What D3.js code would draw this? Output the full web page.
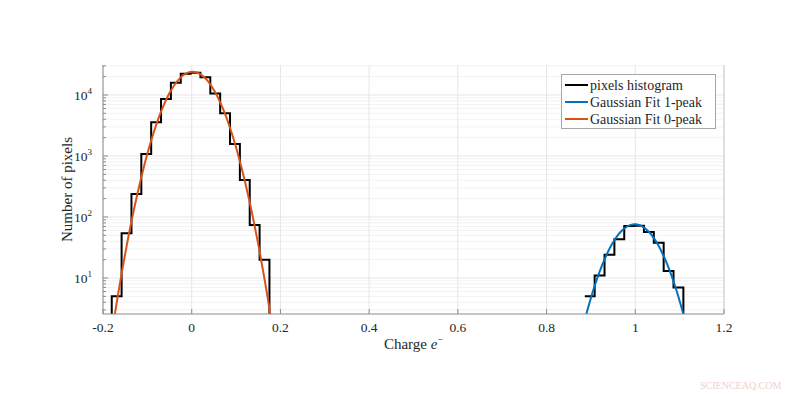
<!DOCTYPE html>
<html lang="en">
<head>
  <meta charset="UTF-8">
  <title>Charge histogram</title>
  <script src="https://d3js.org/d3.v7.min.js"></script>
  <style>
    body { margin: 0; background: #fff; }
    text { font-family: "Liberation Serif", "DejaVu Serif", serif; fill: #262626; }
  </style>
</head>
<body>

<div id="chart"></div>

<script>
  // histogram bins (bin width shared by both peaks)
  const binWidth = 0.02222;
  const peak0Start = -0.2025;
  const peak0Counts = [1, 5, 54, 238, 1080, 3570, 8600, 15900, 22300, 23200, 19500, 10600, 5000, 1570, 404, 74, 20, 1];
  const peak1Start = 0.8640;
  const peak1Counts = [0, 5, 11, 24, 43, 71, 72, 57, 38, 13, 7, 1];

  // gaussian fit curves
  const fit0X = [-0.19, -0.17, -0.15, -0.13, -0.11, -0.09, -0.07, -0.05, -0.03, -0.01, 0.01, 0.03, 0.05, 0.07, 0.09, 0.11, 0.13, 0.15, 0.17, 0.19];
  const fit0Y = [0.42, 3.6, 24.9, 135, 575, 1934, 5136, 10740, 17700, 23000, 23550, 19000, 12100, 6065, 2398, 747, 184, 35.5, 5.4, 0.65];
  const fit1X = [0.87, 0.89, 0.91, 0.93, 0.95, 0.97, 0.99, 1.01, 1.03, 1.05, 1.07, 1.09, 1.11, 1.13];
  const fit1Y = [0.68, 2.62, 8.05, 19.7, 38.5, 59.9, 74.3, 73.4, 57.9, 36.4, 18.2, 7.27, 2.31, 0.59];

  const xTicks = [-0.2, 0, 0.2, 0.4, 0.6, 0.8, 1, 1.2];
  const xTickLabels = ["-0.2", "0", "0.2", "0.4", "0.6", "0.8", "1", "1.2"];
  const yTicks = [10, 100, 1000, 10000];
  const yTickExp = ["1", "2", "3", "4"];
  const legendLabels = ["pixels histogram", "Gaussian Fit 1-peak", "Gaussian Fit 0-peak"];
  const colors = ["#000000", "#0072BD", "#D95319"];

  const width = 800;
  const height = 396;
  const plot = { left: 103, right: 724, top: 65, bottom: 314 };

  const svg = d3.select('#chart')
    .append('svg')
    .attr('width', width)
    .attr('height', height);

  const x = d3.scaleLinear().domain([-0.2, 1.2]).range([plot.left, plot.right]);
  const y = d3.scaleLog().domain([2.57, 31000]).range([plot.bottom, plot.top]);

  // grid
  const minorY = [];
  for (let e = 0; e <= 4; e++) {
    for (let k = 2; k <= 9; k++) {
      const v = k * Math.pow(10, e);
      if (v > y.domain()[0] && v < y.domain()[1]) minorY.push(v);
    }
  }
  svg.append('g').selectAll('line')
    .data(minorY)
    .enter().append('line')
    .attr('x1', plot.left).attr('x2', plot.right)
    .attr('y1', d => y(d)).attr('y2', d => y(d))
    .attr('stroke', '#f2f2f2');

  svg.append('g').selectAll('line')
    .data(yTicks)
    .enter().append('line')
    .attr('x1', plot.left).attr('x2', plot.right)
    .attr('y1', d => y(d)).attr('y2', d => y(d))
    .attr('stroke', '#e6e6e6');

  svg.append('g').selectAll('line')
    .data(xTicks)
    .enter().append('line')
    .attr('x1', d => x(d)).attr('x2', d => x(d))
    .attr('y1', plot.top).attr('y2', plot.bottom)
    .attr('stroke', '#e6e6e6');

  // clip
  svg.append('clipPath').attr('id', 'clip')
    .append('rect')
    .attr('x', plot.left).attr('y', plot.top)
    .attr('width', plot.right - plot.left).attr('height', plot.bottom - plot.top);

  const marks = svg.append('g').attr('clip-path', 'url(#clip)');

  function stairs(start, counts) {
    const pts = counts.map((c, i) => ({ x: start + i * binWidth, c: c }));
    pts.push({ x: start + counts.length * binWidth, c: counts[counts.length - 1] });
    return pts;
  }

  const stairLine = d3.line()
    .defined(d => d.c > 0)
    .x(d => x(d.x))
    .y(d => y(d.c))
    .curve(d3.curveStepAfter);

  [stairs(peak0Start, peak0Counts), stairs(peak1Start, peak1Counts)].forEach(pts => {
    marks.append('path')
      .attr('d', stairLine(pts))
      .attr('fill', 'none')
      .attr('stroke', colors[0])
      .attr('stroke-width', 2);
  });

  const fitLine = d3.line()
    .x(d => x(d[0]))
    .y(d => y(d[1]))
    .curve(d3.curveCatmullRom);

  marks.append('path')
    .attr('d', fitLine(d3.zip(fit1X, fit1Y)))
    .attr('fill', 'none')
    .attr('stroke', colors[1])
    .attr('stroke-width', 2);

  marks.append('path')
    .attr('d', fitLine(d3.zip(fit0X, fit0Y)))
    .attr('fill', 'none')
    .attr('stroke', colors[2])
    .attr('stroke-width', 2);

  // axes lines
  const axisColor = '#8c8c8c';
  svg.append('line')
    .attr('x1', plot.left).attr('x2', plot.right)
    .attr('y1', plot.bottom).attr('y2', plot.bottom)
    .attr('stroke', axisColor);
  svg.append('line')
    .attr('x1', plot.left).attr('x2', plot.left)
    .attr('y1', plot.top).attr('y2', plot.bottom)
    .attr('stroke', axisColor);
  svg.append('line')
    .attr('x1', plot.right).attr('x2', plot.right)
    .attr('y1', plot.top).attr('y2', plot.bottom)
    .attr('stroke', '#cccccc');

  // ticks
  svg.append('g').selectAll('line')
    .data(xTicks)
    .enter().append('line')
    .attr('x1', d => x(d)).attr('x2', d => x(d))
    .attr('y1', plot.bottom).attr('y2', plot.bottom - 5)
    .attr('stroke', axisColor);

  svg.append('g').selectAll('line')
    .data(yTicks)
    .enter().append('line')
    .attr('x1', plot.left).attr('x2', plot.left + 5)
    .attr('y1', d => y(d)).attr('y2', d => y(d))
    .attr('stroke', axisColor);

  svg.append('g').selectAll('line')
    .data(minorY)
    .enter().append('line')
    .attr('x1', plot.left).attr('x2', plot.left + 3)
    .attr('y1', d => y(d)).attr('y2', d => y(d))
    .attr('stroke', axisColor);

  // tick labels
  svg.append('g').selectAll('text')
    .data(xTicks)
    .enter().append('text')
    .attr('x', d => x(d))
    .attr('y', plot.bottom + 18)
    .attr('text-anchor', 'middle')
    .attr('font-size', 13.5)
    .text((d, i) => xTickLabels[i]);

  const yLab = svg.append('g').selectAll('text')
    .data(yTicks)
    .enter().append('text')
    .attr('x', plot.left - 20)
    .attr('y', d => y(d) + 5)
    .attr('text-anchor', 'middle')
    .attr('font-size', 13.5);
  yLab.append('tspan').text('10');
  yLab.append('tspan')
    .attr('dy', -6)
    .attr('font-size', 9)
    .text((d, i) => yTickExp[i]);

  // axis titles
  svg.append('text')
    .attr('transform', `translate(72,${(plot.top + plot.bottom) / 2}) rotate(-90)`)
    .attr('text-anchor', 'middle')
    .attr('font-size', 15)
    .text('Number of pixels');

  const xTitle = svg.append('text')
    .attr('x', (plot.left + plot.right) / 2)
    .attr('y', 349)
    .attr('text-anchor', 'middle')
    .attr('font-size', 15);
  xTitle.append('tspan').text('Charge ');
  xTitle.append('tspan').attr('font-style', 'italic').text('e');
  xTitle.append('tspan').attr('dy', -6).attr('font-size', 10).text('\u2212');

  // legend
  const legend = svg.append('g');
  legend.append('rect')
    .attr('x', 561.5).attr('y', 74.5)
    .attr('width', 154).attr('height', 54)
    .attr('fill', '#fff')
    .attr('stroke', '#a6a6a6');

  const rows = legend.selectAll('g.row')
    .data(legendLabels)
    .enter().append('g')
    .attr('class', 'row')
    .attr('transform', (d, i) => `translate(0,${85 + i * 17})`);
  rows.append('line')
    .attr('x1', 565).attr('x2', 588)
    .attr('y1', 0).attr('y2', 0)
    .attr('stroke', (d, i) => colors[i])
    .attr('stroke-width', 2);
  rows.append('text')
    .attr('x', 590)
    .attr('y', 4.5)
    .attr('font-size', 14)
    .text(d => d);

  // watermark
  svg.append('text')
    .attr('x', 700)
    .attr('y', 389)
    .attr('font-family', 'Liberation Sans, Arial, sans-serif')
    .attr('font-size', 10)
    .style('fill', '#f2d0d0')
    .text('SCIENCEAQ.COM');
</script>

</body>
</html>
